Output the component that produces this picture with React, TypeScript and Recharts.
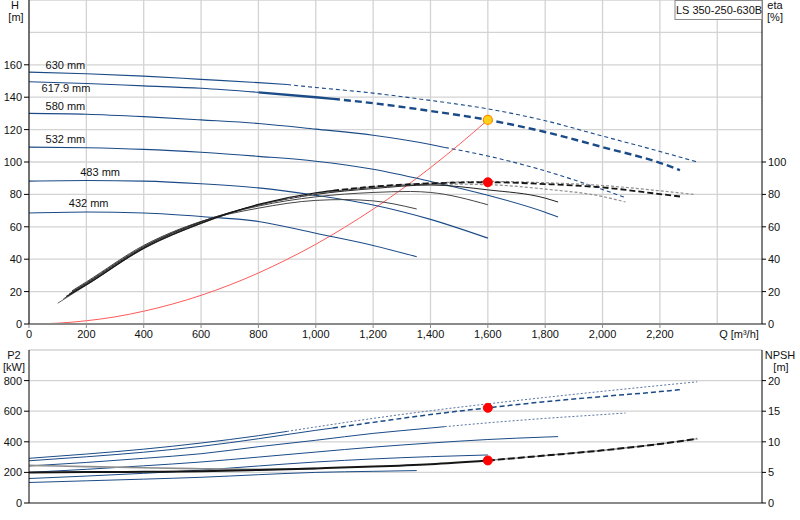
import React from 'react';
import {
  ComposedChart,
  Line,
  Scatter,
  XAxis,
  YAxis,
  CartesianGrid,
  ReferenceDot
} from 'recharts';

// flow axis
const qTicks = [0, 200, 400, 600, 800, 1000, 1200, 1400, 1600, 1800, 2000, 2200];
const qGrid = [0, 200, 400, 600, 800, 1000, 1200, 1400, 1600, 1800, 2000, 2200, 2400];
const hTicks = [0, 20, 40, 60, 80, 100, 120, 140, 160];
const hGrid = [0, 20, 40, 60, 80, 100, 120, 140, 160, 180, 200];
const etaTicks = [0, 20, 40, 60, 80, 100];
const p2Ticks = [0, 200, 400, 600, 800];
const p2Grid = [0, 200, 400, 600, 800, 1000];
const npshTicks = [0, 5, 10, 15, 20];

// head curves H [m]
const qH630 = [0, 200, 400, 600, 800, 900, 1000, 1200, 1400, 1600, 1800, 2000, 2200, 2330];
const h630 = [155.5, 154.5, 153, 151, 149, 147.8, 146, 142.5, 138, 132.8, 125.5, 116, 106.5, 100];
const qH618 = [0, 200, 400, 600, 800, 1000, 1060, 1200, 1400, 1600, 1800, 2000, 2200, 2270];
const h618 = [149.5, 148.5, 147, 145.5, 143, 140, 139, 136.3, 131.5, 126, 118.5, 109.2, 99.5, 95];
const qH580 = [0, 200, 400, 600, 800, 1000, 1200, 1400, 1450, 1600, 1800, 2000, 2080];
const h580 = [130, 129.5, 128, 126, 123.8, 120.3, 116.5, 110.8, 109, 103.7, 94.5, 83, 78];
const qH532 = [0, 200, 400, 600, 800, 1000, 1200, 1400, 1600, 1800, 1845];
const h532 = [109.2, 108.8, 107.8, 106, 103.5, 100.5, 95.5, 88, 79.5, 69, 66];
const qH483 = [0, 200, 400, 600, 800, 1000, 1200, 1400, 1600];
const h483 = [88.2, 88.6, 88.2, 86.6, 84, 79.4, 73.5, 64.6, 53];
const qH432 = [0, 200, 400, 600, 800, 1000, 1200, 1352];
const h432 = [68.5, 69.1, 68.5, 66.4, 63.3, 56, 48.5, 41.5];

// system curve
const qSys = [0, 100, 200, 300, 400, 500, 600, 700, 800, 900, 1000, 1100, 1200, 1300, 1400, 1500, 1600];
const hSys = [0, 0.5, 2, 4.4, 7.9, 12.3, 17.7, 24.1, 31.5, 39.9, 49.2, 59.6, 70.9, 83.2, 96.5, 110.8, 126];

// efficiency eta [%]
const qE630 = [100, 200, 400, 600, 800, 900, 1000, 1200, 1400, 1600, 1800, 2000, 2200, 2320];
const e630 = [12.8, 24, 46.5, 62, 73.5, 77.3, 80.5, 84.8, 87, 88, 87.2, 85.5, 82.2, 80];
const qE618 = [130, 200, 400, 600, 800, 1000, 1060, 1200, 1400, 1600, 1800, 2000, 2200, 2270];
const e618 = [17, 24.2, 46.8, 62.2, 73.8, 81, 82.3, 84.8, 86.8, 87.5, 86.4, 84.3, 80.2, 78.7];
const qE580 = [120, 200, 400, 600, 800, 1000, 1200, 1400, 1450, 1600, 1800, 2000, 2080];
const e580 = [15.5, 24.5, 47, 62.5, 73.5, 80.5, 84.3, 86.3, 86.4, 86, 83.3, 78.7, 75.3];
const qE532 = [140, 200, 400, 600, 800, 1000, 1200, 1400, 1600, 1800, 1845];
const e532 = [18.5, 25, 47.5, 63, 73.5, 80, 83.6, 85.8, 82.8, 77.7, 75.3];
const qE483 = [150, 200, 400, 600, 800, 1000, 1200, 1330, 1400, 1600];
const e483 = [20, 25.5, 48, 63.2, 72.8, 78.5, 81.2, 81.8, 81.2, 73.6];
const qE432 = [150, 200, 400, 600, 800, 1000, 1100, 1200, 1352];
const e432 = [20.5, 26, 48.5, 63.3, 71.5, 76.3, 76.8, 76, 71];

// shaft power P2 [kW]
const qP630 = [0, 200, 400, 600, 800, 900, 1000, 1200, 1400, 1600, 1800, 2000, 2200, 2330];
const p630 = [292, 320, 352, 392, 440, 468, 497, 553, 603, 648, 690, 730, 768, 792];
const qP618 = [0, 200, 400, 600, 800, 1000, 1060, 1200, 1400, 1600, 1800, 2000, 2200, 2270];
const p618 = [276, 302, 332, 370, 420, 475, 490, 527, 578, 622, 662, 696, 728, 741];
const qP580 = [0, 200, 400, 600, 800, 1000, 1200, 1400, 1450, 1600, 1800, 2000, 2080];
const p580 = [242, 265, 292, 322, 368, 410, 455, 490, 499, 524, 553, 578, 588];
const qP532 = [0, 200, 400, 600, 800, 1000, 1200, 1400, 1600, 1800, 1845];
const p532 = [200, 220, 243, 268, 300, 333, 365, 392, 415, 431, 434];
const qP483 = [0, 200, 400, 600, 800, 1000, 1200, 1400, 1600];
const p483 = [160, 176, 194, 215, 242, 268, 288, 303, 314];
const qP432 = [0, 200, 400, 600, 800, 1000, 1200, 1352];
const p432 = [134, 145, 156, 168, 185, 200, 207, 212];

// NPSH [m]
const qN = [0, 200, 400, 600, 800, 1000, 1200, 1400, 1600, 1800, 2000, 2200, 2330];
const npsh = [5.0, 5.05, 5.1, 5.2, 5.4, 5.65, 5.95, 6.35, 6.95, 7.75, 8.6, 9.65, 10.5];
const qN2 = [0, 200, 400, 600, 800, 1000];
const npsh2 = [6.15, 5.95, 5.75, 5.6, 5.5, 5.65];

// impeller labels
const labelNames = ['630 mm', '617.9 mm', '580 mm', '532 mm', '483 mm', '432 mm'];
const labelQ = [127, 129, 127, 127, 248, 208];
const labelH = [160, 145.8, 134.7, 114.1, 94.1, 74.6];

// duty point
const dutyQ = 1600;
const dutyH = 126;
const dutyEta = 87.5;
const dutyP2 = 622;
const dutyNpsh = 6.95;

const Q_MAX = 2556;
const FONT = '"Liberation Sans", Arial, sans-serif';
const BLUE = '#1b4b87';
const BLACK = '#151515';
const GRAY = '#8e8e8e';
const GRID = '#d3d3d3';
const TICK = { fontSize: 11, fill: '#111', fontFamily: FONT };

type Pt = { q: number; v: number };
const pts = (qs: number[], vs: number[]): Pt[] => qs.map((q, i) => ({ q, v: vs[i] }));
const span = (d: Pt[], lo: number, hi: number) => d.filter((p) => p.q >= lo && p.q <= hi);

const seg = (
  key: string,
  axis: string,
  data: Pt[],
  stroke: string,
  width: number,
  dash?: string
) => (
  <Line
    key={key}
    yAxisId={axis}
    data={data}
    dataKey="v"
    type="monotone"
    stroke={stroke}
    strokeWidth={width}
    strokeDasharray={dash}
    dot={false}
    activeDot={false}
    isAnimationActive={false}
  />
);

const labelData = labelNames.map((name, i) => ({ name, q: labelQ[i], v: labelH[i] }));

const LabelShape = (props: any) => (
  <text
    x={props.cx}
    y={props.cy}
    textAnchor="middle"
    dominantBaseline="central"
    fontSize={11}
    fontFamily={FONT}
    fill="#111"
  >
    {props.payload.name}
  </text>
);

const fmt = (v: number) => v.toLocaleString('en-US');

const TopChart = () => {
  const H630 = pts(qH630, h630);
  const H618 = pts(qH618, h618);
  const H580 = pts(qH580, h580);
  const E630 = pts(qE630, e630);
  const E618 = pts(qE618, e618);
  const E580 = pts(qE580, e580);
  return (
    <ComposedChart width={800} height={345} margin={{ top: 0, right: 0, left: 0, bottom: 0 }}>
      <CartesianGrid
        yAxisId="h"
        stroke={GRID}
        strokeWidth={1.3}
        horizontalValues={hGrid}
        verticalValues={qGrid}
      />
      <XAxis
        type="number"
        dataKey="q"
        domain={[0, Q_MAX]}
        allowDataOverflow
        ticks={qTicks}
        tickFormatter={fmt}
        height={21}
        tickSize={4}
        tickMargin={2}
        tick={TICK}
        axisLine={{ stroke: '#8a8a8a', strokeWidth: 2 }}
        tickLine={{ stroke: '#8a8a8a' }}
      />
      <YAxis
        yAxisId="h"
        domain={[0, 200]}
        ticks={hTicks}
        width={29}
        tickSize={5}
        tickMargin={2}
        tick={TICK}
        axisLine={{ stroke: '#000' }}
        tickLine={{ stroke: '#000' }}
      />
      <YAxis
        yAxisId="eta"
        orientation="right"
        domain={[0, 200]}
        ticks={etaTicks}
        width={38}
        tickSize={4}
        tickMargin={2}
        tick={TICK}
        axisLine={{ stroke: '#000' }}
        tickLine={{ stroke: '#000' }}
      />

      {seg('sys', 'h', pts(qSys, hSys), '#ff5a5a', 1)}

      {seg('h630a', 'h', span(H630, 0, 900), BLUE, 1.1)}
      {seg('h630b', 'h', span(H630, 900, 2330), BLUE, 1.1, '4 3')}
      {seg('h618a', 'h', span(H618, 0, 800), BLUE, 1.1)}
      {seg('h618b', 'h', span(H618, 800, 1060), BLUE, 2.4)}
      {seg('h618c', 'h', span(H618, 1060, 2270), BLUE, 2.4, '7 4')}
      {seg('h580a', 'h', span(H580, 0, 1450), BLUE, 1.1)}
      {seg('h580b', 'h', span(H580, 1450, 2080), BLUE, 1.1, '4 3')}
      {seg('h532', 'h', pts(qH532, h532), BLUE, 1.1)}
      {seg('h483', 'h', pts(qH483, h483), BLUE, 1.1)}
      {seg('h432', 'h', pts(qH432, h432), BLUE, 1.1)}

      {seg('e432', 'eta', pts(qE432, e432), '#444', 1)}
      {seg('e483', 'eta', pts(qE483, e483), '#444', 1)}
      {seg('e532', 'eta', pts(qE532, e532), '#222', 1)}
      {seg('e580a', 'eta', span(E580, 0, 1450), '#333', 0.9)}
      {seg('e580b', 'eta', span(E580, 1450, 2080), GRAY, 1.2, '3 2')}
      {seg('e630a', 'eta', span(E630, 0, 900), '#555', 0.9)}
      {seg('e630b', 'eta', span(E630, 900, 2320), GRAY, 1.2, '3 2')}
      {seg('e618a', 'eta', span(E618, 0, 1060), BLACK, 1.2)}
      {seg('e618b', 'eta', span(E618, 1060, 2270), BLACK, 1.8, '6 3')}

      <Scatter
        yAxisId="h"
        data={labelData}
        dataKey="v"
        shape={LabelShape}
        isAnimationActive={false}
      />

      <ReferenceDot yAxisId="eta" x={dutyQ} y={dutyEta} r={4.5} fill="#ff0000" stroke="#ff0000" />
      <ReferenceDot yAxisId="h" x={dutyQ} y={dutyH} r={4.5} fill="#ffd21a" stroke="#ff8c00" strokeWidth={1.2} />
    </ComposedChart>
  );
};

const BottomChart = () => {
  const P630 = pts(qP630, p630);
  const P618 = pts(qP618, p618);
  const P580 = pts(qP580, p580);
  const N = pts(qN, npsh);
  return (
    <ComposedChart width={800} height={180} margin={{ top: 10, right: 0, left: 0, bottom: 0 }}>
      <CartesianGrid
        yAxisId="p2"
        stroke={GRID}
        strokeWidth={1.3}
        horizontalValues={p2Grid}
        verticalValues={qGrid}
      />
      <XAxis
        type="number"
        dataKey="q"
        domain={[0, Q_MAX]}
        allowDataOverflow
        ticks={qTicks}
        tick={false}
        height={17}
        tickSize={3}
        axisLine={{ stroke: '#8a8a8a', strokeWidth: 2 }}
        tickLine={{ stroke: '#8a8a8a' }}
      />
      <YAxis
        yAxisId="p2"
        domain={[0, 1000]}
        ticks={p2Ticks}
        width={29}
        tickSize={5}
        tickMargin={2}
        tick={TICK}
        axisLine={{ stroke: '#000' }}
        tickLine={{ stroke: '#000' }}
      />
      <YAxis
        yAxisId="npsh"
        orientation="right"
        domain={[0, 25]}
        ticks={npshTicks}
        width={38}
        tickSize={4}
        tickMargin={2}
        tick={TICK}
        axisLine={{ stroke: '#000' }}
        tickLine={{ stroke: '#000' }}
      />

      {seg('p630a', 'p2', span(P630, 0, 900), BLUE, 1)}
      {seg('p630b', 'p2', span(P630, 900, 2330), '#5a74a0', 1, '2 2')}
      {seg('p618a', 'p2', span(P618, 0, 1060), BLUE, 1)}
      {seg('p618b', 'p2', span(P618, 1060, 2270), BLUE, 1.5, '5 3')}
      {seg('p580a', 'p2', span(P580, 0, 1450), BLUE, 1)}
      {seg('p580b', 'p2', span(P580, 1450, 2080), '#5a74a0', 1, '2 2')}
      {seg('p532', 'p2', pts(qP532, p532), BLUE, 1)}
      {seg('p483', 'p2', pts(qP483, p483), BLUE, 1)}
      {seg('p432', 'p2', pts(qP432, p432), BLUE, 1)}

      {seg('n2', 'npsh', pts(qN2, npsh2), GRAY, 1.6)}
      {seg('na', 'npsh', span(N, 0, 1600), BLACK, 2)}
      {seg('nb', 'npsh', span(N, 1600, 2330), GRAY, 1.2)}
      {seg('nc', 'npsh', span(N, 1600, 2330), BLACK, 2, '7 3')}

      <ReferenceDot yAxisId="p2" x={dutyQ} y={dutyP2} r={4.5} fill="#ff0000" stroke="#ff0000" />
      <ReferenceDot yAxisId="npsh" x={dutyQ} y={dutyNpsh} r={4.5} fill="#ff0000" stroke="#ff0000" />
    </ComposedChart>
  );
};

const T = (p: { x: number; y: number; children: React.ReactNode; anchor?: string }) => (
  <text
    x={p.x}
    y={p.y}
    textAnchor={(p.anchor as any) || 'middle'}
    dominantBaseline="central"
    fontSize={11}
    fontFamily={FONT}
    fill="#111"
  >
    {p.children}
  </text>
);

const App = () => (
  <div
    style={{
      position: 'absolute',
      left: 0,
      top: 0,
      width: 800,
      height: 520,
      background: '#fff',
      overflow: 'hidden'
    }}
  >
    <div style={{ position: 'absolute', left: 0, top: 0 }}>
      <TopChart />
    </div>
    <div style={{ position: 'absolute', left: 0, top: 340 }}>
      <BottomChart />
    </div>
    <svg
      width={800}
      height={520}
      style={{ position: 'absolute', left: 0, top: 0, pointerEvents: 'none' }}
    >
      <T x={15} y={5}>H</T>
      <T x={16} y={17}>[m]</T>
      <T x={775} y={5}>eta</T>
      <T x={775} y={17}>[%]</T>
      <T x={739} y={334}>Q [m³/h]</T>
      <T x={14} y={355}>P2</T>
      <T x={14} y={367}>[kW]</T>
      <T x={780} y={355}>NPSH</T>
      <T x={781} y={367}>[m]</T>
      <rect x={675} y={0.5} width={87} height={19} fill="#fff" stroke="#8a8a8a" />
      <T x={719} y={10}>LS 350-250-630B</T>
    </svg>
  </div>
);

export default App;
